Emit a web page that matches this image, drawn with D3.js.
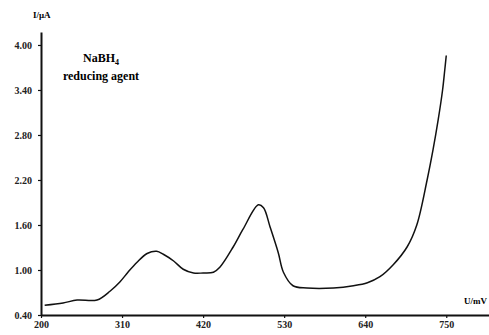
<!DOCTYPE html>
<html>
<head>
<meta charset="utf-8">
<script src="https://cdn.jsdelivr.net/npm/d3@7"></script>
<style>
  body { margin: 0; background: #fff; }
  .axis text { font-family: "Liberation Serif", serif; font-weight: bold; font-size: 10px; fill: #222; }
  .axis path, .axis line { stroke: #111; }
</style>
</head>
<body>
<div id="canvas"></div>
<script>
// potential (mV) and current (uA)
var potential = [205, 230, 249, 276, 294, 307, 318, 330, 344, 357, 366, 380, 393, 407, 420, 434, 443, 461, 474, 495, 502, 511, 522, 529, 542, 561, 597, 624, 643, 660, 678, 697, 710, 724, 732, 739, 745, 748, 750];
var current   = [0.53, 0.56, 0.60, 0.60, 0.72, 0.84, 0.97, 1.10, 1.22, 1.25, 1.21, 1.12, 1.01, 0.96, 0.96, 0.97, 1.04, 1.31, 1.54, 1.87, 1.83, 1.57, 1.23, 0.97, 0.79, 0.76, 0.76, 0.79, 0.83, 0.91, 1.07, 1.31, 1.60, 2.20, 2.60, 3.00, 3.40, 3.67, 3.86];
var xTicks = [200, 310, 420, 530, 640, 750];
var yTicks = [0.40, 1.00, 1.60, 2.20, 2.80, 3.40, 4.00];

var W = 489, H = 335;

var svg = d3.select('#canvas')
    .append('svg')
    .attr('width', W)
    .attr('height', H);

// axes run a little past the last tick, like the original
var x = d3.scaleLinear().domain([200, 808]).range([41, 489]);
var y = d3.scaleLinear().domain([0.4, 4.173]).range([315, 32]);

var axisX = d3.axisBottom(x)
    .tickValues(xTicks)
    .tickSize(3)
    .tickSizeOuter(0)
    .tickPadding(3)
    .tickFormat(d3.format('d'));

var axisY = d3.axisLeft(y)
    .tickValues(yTicks)
    .tickSize(3)
    .tickSizeOuter(0)
    .tickPadding(6)
    .tickFormat(d3.format('.2f'));

svg.append('g').attr('class', 'axis axis-x')
    .attr('transform', 'translate(0,315)')
    .call(axisX);

svg.append('g').attr('class', 'axis axis-y')
    .attr('transform', 'translate(41,0)')
    .call(axisY);

svg.selectAll('.axis .domain').attr('stroke-width', 2);
svg.selectAll('.axis .tick line').attr('stroke-width', 1.2);

var line = d3.line()
    .x(function(d, i) { return x(potential[i]); })
    .y(function(d, i) { return y(current[i]); })
    .curve(d3.curveCatmullRom.alpha(0.5));

svg.append('path')
    .datum(current)
    .attr('d', line)
    .attr('fill', 'none')
    .attr('stroke', '#111')
    .attr('stroke-width', 1.5);

// axis titles
svg.append('text')
    .attr('x', 33).attr('y', 18)
    .style('font-family', '"Liberation Serif", serif')
    .style('font-weight', 'bold')
    .style('font-size', '9px')
    .text('I/μA');

svg.append('text')
    .attr('x', 487).attr('y', 304)
    .attr('text-anchor', 'end')
    .style('font-family', '"Liberation Serif", serif')
    .style('font-weight', 'bold')
    .style('font-size', '9px')
    .text('U/mV');

// annotation
var note = svg.append('g')
    .style('font-family', '"Liberation Serif", serif')
    .style('font-weight', 'bold')
    .style('font-size', '12px')
    .attr('text-anchor', 'middle');

var t1 = note.append('text').attr('x', 101).attr('y', 62);
t1.append('tspan').text('NaBH');
t1.append('tspan').attr('dy', 3).style('font-size', '8px').text('4');

note.append('text').attr('x', 101).attr('y', 80).text('reducing agent');
</script>
</body>
</html>
